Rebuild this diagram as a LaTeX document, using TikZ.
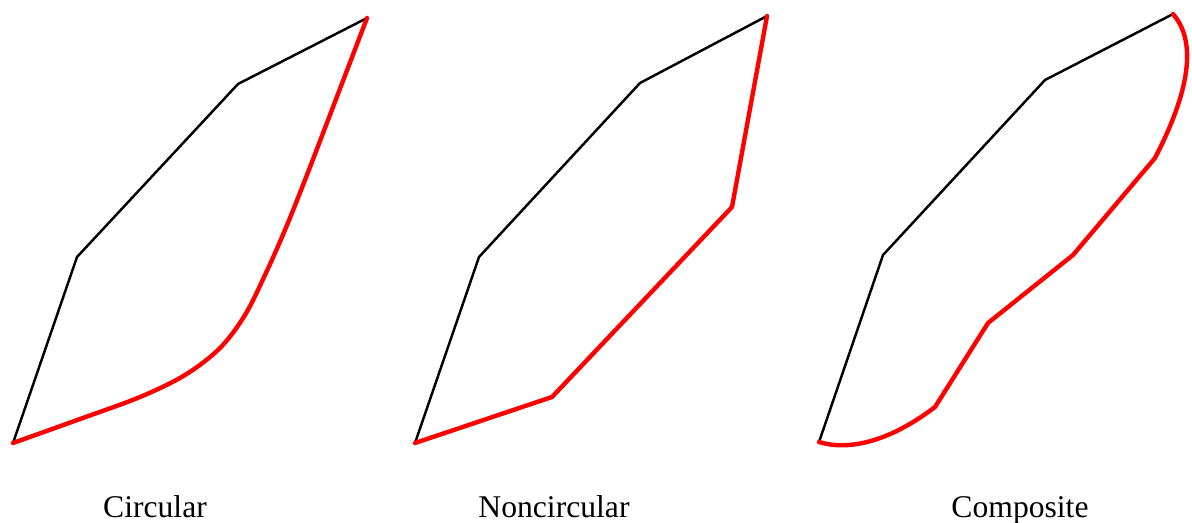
\documentclass[tikz,border=0pt]{standalone}
\usepackage{fontspec}
\setmainfont{Liberation Serif}
\usetikzlibrary{calc}
\definecolor{camRed}{HTML}{FF0000}

\begin{document}
\begin{tikzpicture}[
    x=0.02cm, y=-0.02cm,
    pitch/.style={draw=black, line width=1.4pt, line join=round, line cap=round},
    profile/.style={draw=camRed, line width=2.5pt, line join=round, line cap=round},
    caption/.style={font=\fontsize{18}{21}\selectfont, anchor=base, inner sep=0pt},
  ]
    \useasboundingbox (0,0) rectangle (1192,522);

    % circular
    \coordinate (circ0) at (13,443);
    \coordinate (circ1) at (77,257);
    \coordinate (circ2) at (238,84);
    \coordinate (circ3) at (367,18);
    \draw[pitch] (circ0) -- (circ1) -- (circ2) -- (circ3);
    \draw[profile] plot[smooth, tension=0.55] coordinates {(13,443) (80,419)
      (140,397) (185,375) (220,348) (245,315) (265,275) (285,230) (305,180)
      (325,128) (346,73) (367,18)};

    % noncircular
    \coordinate (nonc0) at (415,443);
    \coordinate (nonc1) at (479,257);
    \coordinate (nonc2) at (640,83);
    \coordinate (nonc3) at (767,16);
    \coordinate (nonc4) at (552,397);
    \coordinate (nonc5) at (732,207);
    \draw[pitch] (nonc0) -- (nonc1) -- (nonc2) -- (nonc3);
    \draw[profile] (nonc0) -- (nonc4) -- (nonc5) -- (nonc3);

    % composite
    \coordinate (comp0) at (819,442);
    \coordinate (comp1) at (883,255);
    \coordinate (comp2) at (1045,80);
    \coordinate (comp3) at (1173,14);
    \coordinate (comp4) at (935,407);
    \coordinate (comp5) at (988,323);
    \coordinate (comp6) at (1073,255);
    \coordinate (comp7) at (1155,158);
    \draw[pitch] (comp0) -- (comp1) -- (comp2) -- (comp3);
    \draw[profile] (comp0) .. controls (845,450) and (885,445) .. (comp4)
      -- (comp5) -- (comp6) -- (comp7)
      .. controls (1185,100) and (1200,45) .. (comp3);

    \node[caption] (lblCirc) at (155,517) {Circular};
    \node[caption] (lblNonc) at (554,517) {Noncircular};
    \node[caption] (lblComp) at (1020,517) {Composite};
  \end{tikzpicture}
\end{document}
